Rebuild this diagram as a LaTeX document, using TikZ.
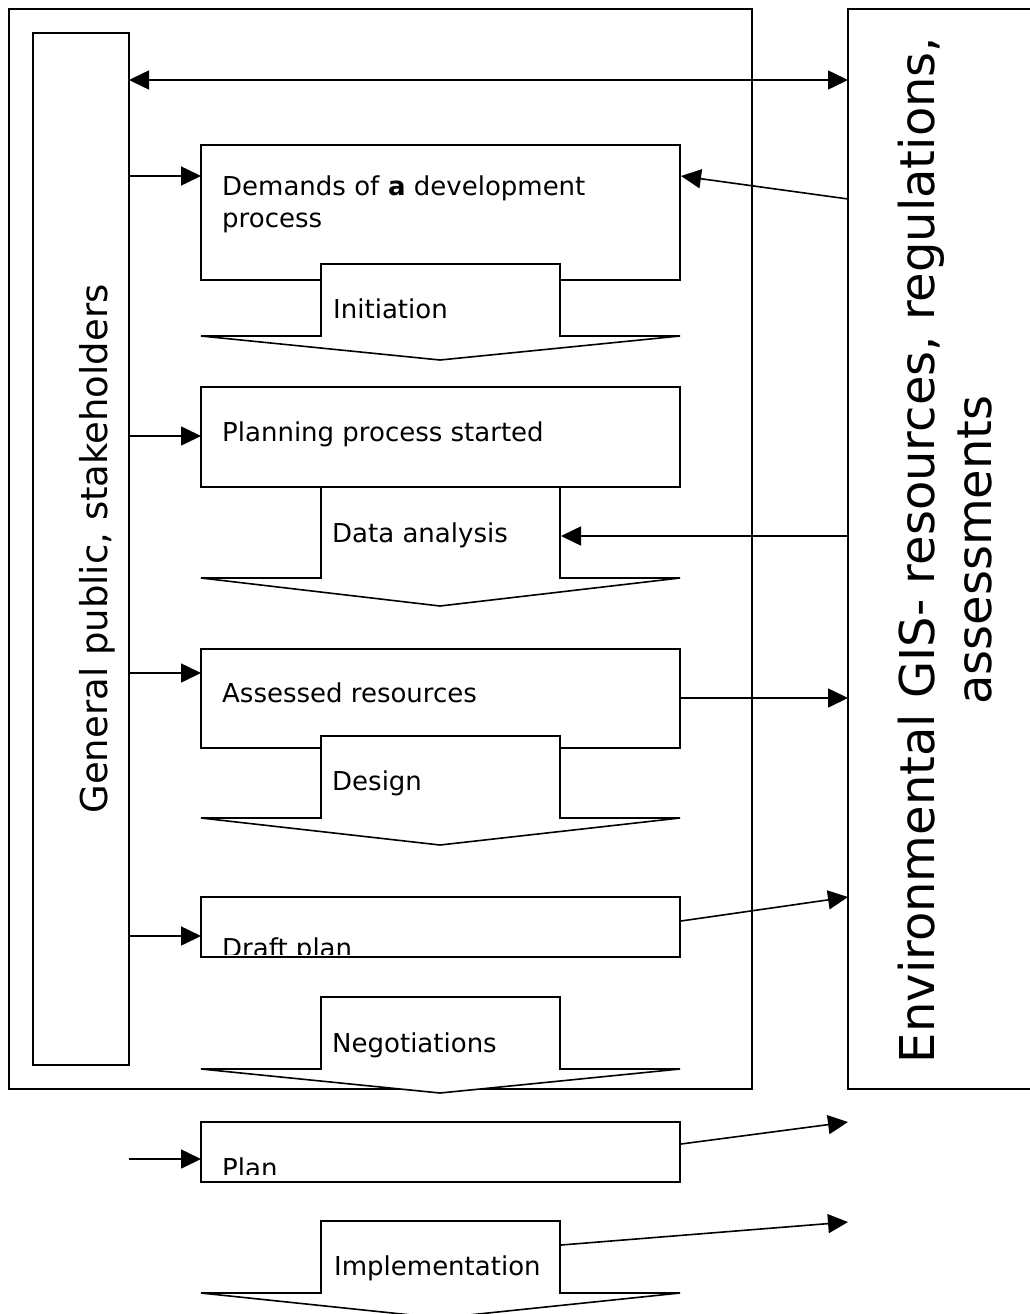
\documentclass[tikz,border=0pt]{standalone}
\usepackage{fontspec}
\setmainfont{DejaVu Sans}
\usetikzlibrary{arrows.meta}
\begin{document}
\begin{tikzpicture}[x=1pt,y=-1pt,
  frame/.style={draw, line width=1.8pt, inner sep=0pt, outer sep=0pt, anchor=north west},
  conn/.style={line width=1.6pt, -{Triangle[length=20pt,width=19pt]}},
  bidir/.style={line width=1.6pt, {Triangle[length=20pt,width=19pt]}-{Triangle[length=20pt,width=19pt]}},
  blk/.style={draw, fill=white, line width=1.6pt, line join=miter},
  txt/.style={font=\fontsize{26}{32}\selectfont, inner sep=0pt, anchor=base west},
  bigtxt/.style={rotate=90, inner sep=0pt, anchor=base},
]
\useasboundingbox (0,0) rectangle (1030,1314);

% frames
\node[frame, minimum width=743pt, minimum height=1080pt] (outer) at (9,9) {};
\node[frame, minimum width=197pt, minimum height=1080pt] (env) at (848,9) {};
\node[frame, minimum width=96pt, minimum height=1032pt] (gp) at (33,33) {};

% process boxes
\node[frame, minimum width=479pt, minimum height=135pt] (b1) at (201,145) {};
\node[frame, minimum width=479pt, minimum height=100pt] (b2) at (201,387) {};
\node[frame, minimum width=479pt, minimum height=99pt] (b3) at (201,649) {};
\node[frame, minimum width=479pt, minimum height=60pt] (b4) at (201,897) {};
\node[frame, minimum width=479pt, minimum height=60pt] (b5) at (201,1122) {};

% block arrows
\draw[blk] (321,264) -- (560,264) -- (560,336) -- (680,336) -- (440,360) -- (201,336) -- (321,336) -- cycle;
\draw[blk] (321,487) -- (560,487) -- (560,578) -- (680,578) -- (440,606) -- (201,578) -- (321,578) -- cycle;
\draw[blk] (321,736) -- (560,736) -- (560,818) -- (680,818) -- (440,845) -- (201,818) -- (321,818) -- cycle;
\draw[blk] (321,997) -- (560,997) -- (560,1069) -- (680,1069) -- (440,1093) -- (201,1069) -- (321,1069) -- cycle;
\draw[blk] (321,1221) -- (560,1221) -- (560,1293) -- (680,1293) -- (440,1318) -- (201,1293) -- (321,1293) -- cycle;

% texts
\node[txt] (t1a) at (222,195) {Demands of \textbf{a} development};
\node[txt] (t1b) at (222,227) {process};
\node[txt] (a1) at (333,318) {Initiation};
\node[txt] (t2) at (222,441) {Planning process started};
\node[txt] (a2) at (332,542) {Data analysis};
\node[txt] (t3) at (222,702) {Assessed resources};
\node[txt] (a3) at (332,790) {Design};
\begin{scope}
  \clip (202,898) rectangle (679,954);
  \node[txt] (t4) at (222,957) {Draft plan};
\end{scope}
\node[txt] (a4) at (332,1052) {Negotiations};
\begin{scope}
  \clip (202,1123) rectangle (679,1174);
  \node[txt] (t5) at (222,1177) {Plan};
\end{scope}
\node[txt] (a5) at (334,1275) {Implementation};

\node[bigtxt, font=\fontsize{37}{44}\selectfont] (gpt) at (107,549) {General public, stakeholders};
\node[bigtxt, font=\fontsize{48}{56}\selectfont] (envt1) at (934,550) {Environmental GIS- resources, regulations,};
\node[bigtxt, font=\fontsize{48}{56}\selectfont] (envt2) at (991,550) {assessments};

% connectors from the public
\coordinate (D1) at (129,80);
\draw[bidir] (D1) -- (D1 -| env.west);
\coordinate (L1) at (129,176);
\coordinate (L2) at (129,436);
\coordinate (L3) at (129,673);
\coordinate (L4) at (129,936);
\coordinate (L5) at (129,1159);
\draw[conn] (L1) -- (L1 -| b1.west);
\draw[conn] (L2) -- (L2 -| b2.west);
\draw[conn] (L3) -- (L3 -| b3.west);
\draw[conn] (L4) -- (L4 -| b4.west);
\draw[conn] (L5) -- (L5 -| b5.west);

% connectors with the environmental GIS
\coordinate (R1) at (848,199);
\coordinate (R1t) at (681,176);
\draw[conn] (R1) -- (R1t);
\coordinate (R2) at (848,536);
\coordinate (R2t) at (561,536);
\draw[conn] (R2) -- (R2t);
\coordinate (R3) at (681,698);
\draw[conn] (R3) -- (R3 -| env.west);
\coordinate (R4) at (681,921);
\coordinate (R4t) at (848,897);
\draw[conn] (R4) -- (R4t);
\coordinate (R5) at (681,1144);
\coordinate (R5t) at (848,1122);
\draw[conn] (R5) -- (R5t);
\coordinate (R6) at (561,1245);
\coordinate (R6t) at (848,1222);
\draw[conn] (R6) -- (R6t);
\end{tikzpicture}
\end{document}
